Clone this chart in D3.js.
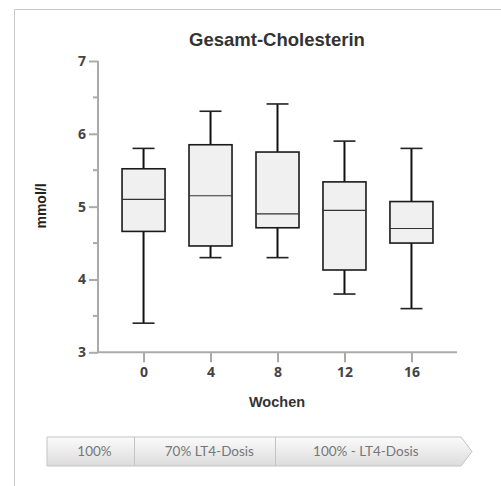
<!DOCTYPE html>
<html><head><meta charset="utf-8">
<script src="https://cdn.jsdelivr.net/npm/d3@7"></script>
<style>body{margin:0;background:#fff}svg{display:block}</style>
</head><body>
<script>
const categories = ["0","4","8","12","16"];
const whiskerLow = [3.40, 4.30, 4.30, 3.80, 3.60];
const q1         = [4.66, 4.46, 4.71, 4.13, 4.50];
const median     = [5.10, 5.15, 4.90, 4.95, 4.70];
const q3         = [5.52, 5.85, 5.75, 5.34, 5.07];
const whiskerHigh= [5.80, 6.31, 6.41, 5.90, 5.80];
const yTicks = [3,4,5,6,7];
const yMinor = [3.5,4.5,5.5,6.5];
const phases = ["100%","70% LT4-Dosis","100% - LT4-Dosis"];
const phaseBounds = [0, 0.21, 0.55, 1];

(function(){
const W=501,H=486;
const svg=d3.select("body").append("svg").attr("width",W).attr("height",H);
// frame
svg.append("path").attr("d","M14.5,"+(H+2)+"V9.5H"+(W+2)).attr("fill","none").attr("stroke","#c8c8c8").attr("stroke-width",1);

const x=d3.scalePoint().domain(categories).range([98,457]).padding(0.68);
const y=d3.scaleLinear().domain([3,7]).range([352.3,61]);

// title
svg.append("text").attr("x",277).attr("y",46).attr("text-anchor","middle")
  .attr("font-family","Liberation Sans, Arial, sans-serif").attr("font-weight","bold").attr("font-size",18.5).attr("fill","#333").text("Gesamt-Cholesterin");

// y axis
const ya=svg.append("g").attr("transform","translate(98,0)")
  .call(d3.axisLeft(y).tickValues(yTicks).tickSize(9).tickFormat(d3.format("d")));
ya.select(".domain").attr("stroke","#aaa").attr("stroke-width",2).attr("d","M0,"+y(3)+"V"+y(7));
ya.selectAll(".tick line").attr("stroke","#aaa").attr("stroke-width",2);
ya.selectAll(".tick text").attr("font-family","Open Sans, sans-serif").attr("font-weight","bold").attr("font-size",14).attr("fill","#444").attr("x",-12);
svg.append("g").selectAll("line").data(yMinor).join("line")
  .attr("x1",93).attr("x2",98).attr("y1",d=>y(d)).attr("y2",d=>y(d)).attr("stroke","#aaa").attr("stroke-width",2);

// x axis
const xa=svg.append("g").attr("transform","translate(0,"+y(3)+")")
  .call(d3.axisBottom(x).tickSize(10));
xa.select(".domain").attr("stroke","#aaa").attr("stroke-width",2).attr("d","M97,0H457");
xa.selectAll(".tick line").attr("stroke","#aaa").attr("stroke-width",2);
xa.selectAll(".tick text").attr("font-family","Open Sans, sans-serif").attr("font-weight","bold").attr("font-size",14).attr("fill","#444").attr("y",15);

// axis labels
svg.append("text").attr("transform","translate(46,206) rotate(-90)").attr("text-anchor","middle")
  .attr("font-family","Liberation Sans, Arial, sans-serif").attr("font-weight","bold").attr("font-size",14).attr("fill","#222").text("mmol/l");
svg.append("text").attr("x",277).attr("y",407).attr("text-anchor","middle")
  .attr("font-family","Liberation Sans, Arial, sans-serif").attr("font-weight","bold").attr("font-size",14.5).attr("fill","#333").text("Wochen");

// boxes
const bw=43, cw=26;
const g=svg.append("g");
categories.forEach((c,i)=>{
  const cx=x(c);
  const b=g.append("g");
  b.append("line").attr("x1",cx).attr("x2",cx).attr("y1",y(whiskerHigh[i])).attr("y2",y(q3[i])).attr("stroke","#111").attr("stroke-width",2);
  b.append("line").attr("x1",cx).attr("x2",cx).attr("y1",y(q1[i])).attr("y2",y(whiskerLow[i])).attr("stroke","#111").attr("stroke-width",2);
  b.append("line").attr("x1",cx-cw/2+2).attr("x2",cx+cw/2-2).attr("y1",y(whiskerHigh[i])).attr("y2",y(whiskerHigh[i])).attr("stroke","#222").attr("stroke-width",1.6);
  b.append("line").attr("x1",cx-cw/2+2).attr("x2",cx+cw/2-2).attr("y1",y(whiskerLow[i])).attr("y2",y(whiskerLow[i])).attr("stroke","#222").attr("stroke-width",1.6);
  b.append("rect").attr("x",cx-bw/2).attr("width",bw).attr("y",y(q3[i])).attr("height",y(q1[i])-y(q3[i]))
    .attr("fill","#f0f0f0").attr("stroke","#1a1a1a").attr("stroke-width",1.6);
  b.append("line").attr("x1",cx-bw/2).attr("x2",cx+bw/2).attr("y1",y(median[i])).attr("y2",y(median[i])).attr("stroke","#333").attr("stroke-width",1.2);
});

// phase arrow bar
const px=d3.scaleLinear().domain([0,1]).range([47,461]);
const barTop=437, barBot=466, tip=472;
const textShift=[4,5,-2];
const defs=svg.append("defs");
const gr=defs.append("linearGradient").attr("id","gr").attr("x1",0).attr("y1",0).attr("x2",0).attr("y2",1);
gr.append("stop").attr("offset","0%").attr("stop-color","#fbfbfb");
gr.append("stop").attr("offset","100%").attr("stop-color","#dcdcdc");
svg.append("path").attr("d",`M${px(0)},${barTop}H${px(1)}L${tip},${(barTop+barBot)/2}L${px(1)},${barBot}H${px(0)}Z`)
  .attr("fill","url(#gr)").attr("stroke","#c4c4c4").attr("stroke-width",1);
svg.append("g").selectAll("line").data(phaseBounds.slice(1,-1)).join("line")
  .attr("x1",d=>Math.round(px(d))+0.5).attr("x2",d=>Math.round(px(d))+0.5).attr("y1",barTop).attr("y2",barBot).attr("stroke","#c4c4c4");
svg.append("g").selectAll("text").data(phases).join("text")
  .attr("x",(d,i)=>(px(phaseBounds[i])+px(phaseBounds[i+1]))/2 + textShift[i])
  .attr("y",456).attr("text-anchor","middle").attr("font-family","Lato, sans-serif").attr("font-size",13.5).attr("fill","#777").text(d=>d);
})();
</script>
</body></html>
